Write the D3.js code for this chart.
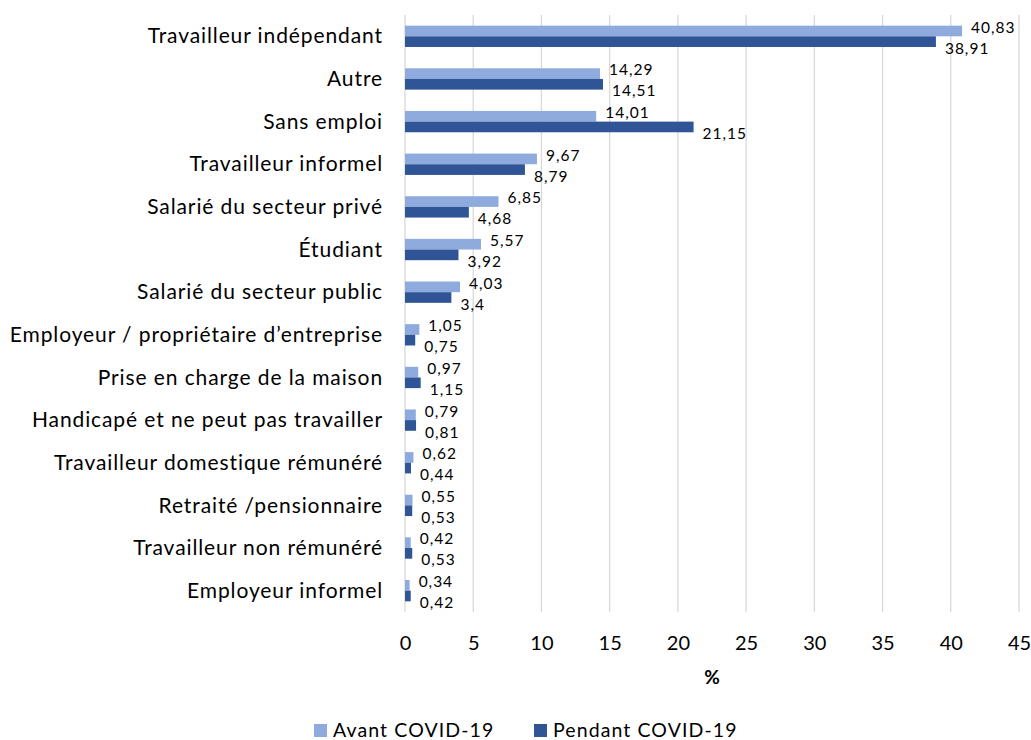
<!DOCTYPE html>
<html><head><meta charset="utf-8">
<script src="https://cdn.jsdelivr.net/npm/d3@7"></script>
<style>body{margin:0;background:#fff;} text{font-family:Lato, "Open Sans", sans-serif;fill:#000;}</style>
</head><body>
<svg id="c" width="1031" height="740"></svg>
<script>
const categories = ["Travailleur indépendant","Autre","Sans emploi","Travailleur informel","Salarié du secteur privé","Étudiant","Salarié du secteur public","Employeur / propriétaire d’entreprise","Prise en charge de la maison","Handicapé et ne peut pas travailler","Travailleur domestique rémunéré","Retraité /pensionnaire","Travailleur non rémunéré","Employeur informel"];
const avant = [40.83,14.29,14.01,9.67,6.85,5.57,4.03,1.05,0.97,0.79,0.62,0.55,0.42,0.34];
const pendant = [38.91,14.51,21.15,8.79,4.68,3.92,3.4,0.75,1.15,0.81,0.44,0.53,0.53,0.42];
const seriesNames = ["Avant COVID-19","Pendant COVID-19"];
const xTicks = [0,5,10,15,20,25,30,35,40,45];
const colors = ["#8faadc","#2f5597"];

const svg = d3.select("#c");
const x = d3.scaleLinear().domain([0,45]).range([405,1019]);
const y = d3.scaleBand().domain(categories).range([15,612]).paddingInner(0.5).paddingOuter(0.25);
const fmt = v => String(v).replace(".", ",");

// gridlines
svg.append("g").selectAll("line").data(xTicks).join("line")
  .attr("x1", d=>x(d)).attr("x2", d=>x(d)).attr("y1",15).attr("y2",612)
  .attr("stroke", "#d9d9d9").attr("stroke-width",1.3);

const bh = y.bandwidth()/2;
const g = svg.append("g");
[avant, pendant].forEach((arr, si) => {
  g.selectAll(null).data(arr).join("rect")
    .attr("x", x(0)).attr("y", (d,i)=>y(categories[i]) + si*bh)
    .attr("width", d=>x(d)-x(0)).attr("height", bh)
    .attr("fill", colors[si]);
  g.selectAll(null).data(arr).join("text")
    .attr("x", d=>x(d)+9)
    .attr("y", (d,i)=>y(categories[i]) + y.bandwidth()/2 + (si===0 ? -9 : 12))
    .attr("dy","0.35em")
    .attr("font-size", 15.5).attr("letter-spacing", 1.0)
    .text(d=>fmt(d));
});

// category labels
svg.append("g").selectAll("text").data(categories).join("text")
  .attr("x", 383).attr("y", d=>y(d)+y.bandwidth()/2).attr("dy","0.34em")
  .attr("text-anchor","end").attr("font-size",21).attr("letter-spacing",0.9).text(d=>d);

// x tick labels
const xa = svg.append("g").attr("transform","translate(0,636)")
  .call(d3.axisBottom(x).tickValues(xTicks).tickSize(0).tickPadding(0).tickFormat(d=>d));
xa.select(".domain").remove();
xa.selectAll("text").attr("font-size",20).attr("font-family","Lato, sans-serif").attr("fill","#000").attr("dy","0.71em");

svg.append("text").attr("x",712).attr("y",677).attr("dy","0.35em").attr("text-anchor","middle")
  .attr("font-size",19).attr("font-weight","bold").text("%");

// legend
const leg = svg.append("g");
const legX = [314, 534];
seriesNames.forEach((n,i)=>{
  leg.append("rect").attr("x",legX[i]).attr("y",724).attr("width",13).attr("height",13).attr("fill",colors[i]);
  leg.append("text").attr("x",legX[i]+19).attr("y",730.5).attr("dy","0.35em").attr("font-size",19.5).attr("letter-spacing",1.1).text(n);
});
</script>
</body></html>
